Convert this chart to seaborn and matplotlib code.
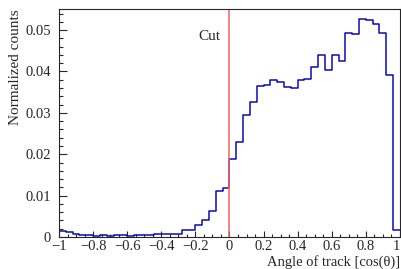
import numpy as np
import pandas as pd
import seaborn as sns
import matplotlib.pyplot as plt
from matplotlib.ticker import MultipleLocator

# histogram: 50 bins of width 0.04 from -1 to 1
bin_edges = np.linspace(-1, 1, 51)
counts_neg = [
    0.0015, 0.0012, 0.0008, 0.0004, 0.0004, 0.0003, 0.0004, 0.0003, 0.0004, 0.0004,
    0.0003, 0.0004, 0.0006, 0.0006, 0.0007, 0.0007, 0.0007, 0.0007, 0.0016, 0.0016,
    0.0029, 0.0040, 0.0063, 0.0110, 0.0118,
]
counts_pos = [
    0.0189, 0.0230, 0.0294, 0.0326, 0.0364, 0.0367, 0.0379, 0.0375, 0.0362, 0.0360,
    0.0379, 0.0382, 0.0412, 0.0440, 0.0403, 0.0440, 0.0426, 0.0492, 0.0490, 0.0527,
    0.0525, 0.0515, 0.0492, 0.0392, 0.0016,
]
cut_value = 0.0

df = pd.DataFrame({
    "cos_theta": (bin_edges[:-1] + bin_edges[1:]) / 2,
    "weight": counts_neg + counts_pos,
})

sns.set_style("ticks")
plt.rcParams['font.family'] = ['Liberation Serif', 'DejaVu Serif']

fig = plt.figure(figsize=(4.02, 2.69), dpi=100)
ax = fig.add_axes([0.1468, 0.119, 0.848, 0.8475])

sns.histplot(data=df, x="cos_theta", weights="weight", bins=list(bin_edges),
             element="step", fill=False, color="#0a0ab4", linewidth=1.1, ax=ax)
ax.axvline(cut_value, color="#f06464", linewidth=1.1)
ax.text(-0.117, 0.0484, "Cut", ha="center", va="center", fontsize=11)

ax.set_xlim(-1, 1)
ax.set_ylim(0, 0.0551)
ax.xaxis.set_major_locator(MultipleLocator(0.2))
ax.xaxis.set_minor_locator(MultipleLocator(0.05))
ax.yaxis.set_major_locator(MultipleLocator(0.01))
ax.yaxis.set_minor_locator(MultipleLocator(0.002))
xt = ax.get_xticks()
ax.set_xticks(xt)
ax.set_xticklabels([f"{round(v, 1):g}".replace("-", "\u2212") for v in xt])
yt = ax.get_yticks()
ax.set_yticks(yt)
ax.set_yticklabels([f"{round(v, 2):g}" for v in yt])
ax.set_xlim(-1, 1)
ax.set_ylim(0, 0.0551)
ax.tick_params(which="both", direction="in", labelsize=10.5, width=0.8)
ax.tick_params(axis="y", which="major", length=5.8, pad=6)
ax.tick_params(axis="y", which="minor", length=3)
ax.tick_params(axis="x", which="major", length=4.3, pad=2.5)
ax.tick_params(axis="x", which="minor", length=2.2)
for s in ax.spines.values():
    s.set_visible(True)
    s.set_linewidth(0.8)

ax.set_xlabel("Angle of track [cos(θ)]", loc="right", fontsize=10.5, labelpad=1)
ax.set_ylabel("Normalized counts", loc="top", fontsize=11, labelpad=2.5)

# keep the "1" label inside the canvas
fig.canvas.draw()
last = [t for t in ax.xaxis.get_major_ticks() if abs(t.get_loc() - 1) < 1e-6]
for t in last:
    t.label1.set_horizontalalignment("right")

fig.savefig("out.png", dpi=100)
plt.close(fig)
